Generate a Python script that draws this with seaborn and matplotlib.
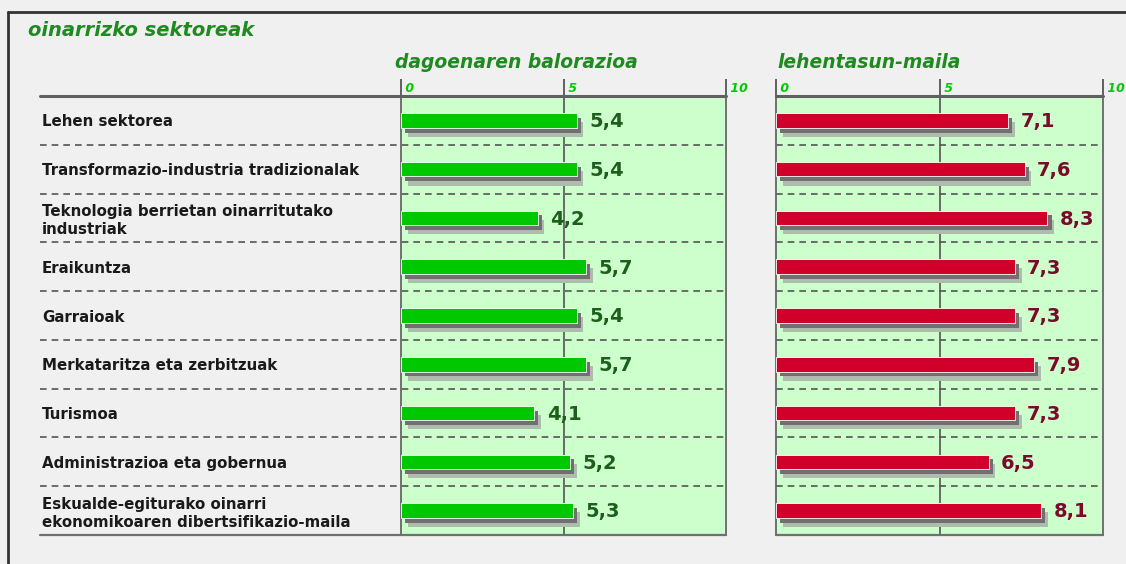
import matplotlib
matplotlib.use("Agg")
import matplotlib.pyplot as plt
import matplotlib.patheffects as pe
from matplotlib.lines import Line2D
import seaborn as sns
import pandas as pd

# ---- data ----
categories = [
    "Lehen sektorea",
    "Transformazio-industria tradizionalak",
    "Teknologia berrietan oinarritutako\nindustriak",
    "Eraikuntza",
    "Garraioak",
    "Merkataritza eta zerbitzuak",
    "Turismoa",
    "Administrazioa eta gobernua",
    "Eskualde-egiturako oinarri\nekonomikoaren dibertsifikazio-maila",
]
balorazioa = [5.4, 5.4, 4.2, 5.7, 5.4, 5.7, 4.1, 5.2, 5.3]
lehentasuna = [7.1, 7.6, 8.3, 7.3, 7.3, 7.9, 7.3, 6.5, 8.1]
xticks = [0, 5, 10]
main_title = "oinarrizko sektoreak"
panel_titles = ["dagoenaren balorazioa", "lehentasun-maila"]

sns.set_theme(style="white")
plt.rcParams["font.family"] = ["DejaVu Sans"]

W, H = 1126, 564
fig = plt.figure(figsize=(W / 100, H / 100), dpi=100, facecolor="#f0f0f0")

def fx(px):
    return px / W

def fy(py):
    return 1 - py / H

top_px, bot_px = 96, 535
axL = fig.add_axes([fx(401), fy(bot_px), fx(726 - 401), fy(top_px) - fy(bot_px)])
axR = fig.add_axes([fx(776), fy(bot_px), fx(1103 - 776), fy(top_px) - fy(bot_px)])

df = pd.DataFrame({"cat": categories, "bal": balorazioa, "leh": lehentasuna})

specs = [
    (axL, "bal", "#00c800", "#1d5e1d", True),
    (axR, "leh", "#d0002a", "#7a0a2a", False),
]

for ax, col, color, vcolor, show_labels in specs:
    ax.set_facecolor("#ccffcc")
    sns.barplot(data=df, x=col, y="cat", orient="h", color=color, width=0.3,
                edgecolor="white", linewidth=0.6, saturation=1, ax=ax, zorder=3)
    for p in ax.patches:
        p.set_path_effects([
            pe.SimplePatchShadow(offset=(5, -6.5), shadow_rgbFace="#aebcae", alpha=1),
            pe.SimplePatchShadow(offset=(3, -3.5), shadow_rgbFace="#707070", alpha=1),
            pe.Normal(),
        ])
    vals = df[col].tolist()
    for i, v in enumerate(vals):
        ax.annotate(f"{v:.1f}".replace(".", ","), xy=(v, i), xytext=(9, -1),
                    textcoords="offset points", ha="left", va="center",
                    fontsize=14, fontweight="heavy", color=vcolor, zorder=5)
    ax.set_xlim(0, 10)
    ax.set_ylim(len(categories) - 0.5, -0.5)
    ax.set_xlabel("")
    ax.set_ylabel("")
    ax.xaxis.tick_top()
    ax.set_xticks(xticks)
    ax.set_xticklabels([])
    ax.tick_params(axis="x", length=12, width=1.3, color="#555555", direction="out")
    for t in xticks:
        ax.text(t, 1.0 + 8 / 439, f" {t}", transform=ax.get_xaxis_transform(),
                ha="left", va="center", fontsize=9, fontweight="bold",
                fontstyle="italic", color="#00cc00", clip_on=False)
    ax.axvline(5, color="#555555", lw=1.2, zorder=1)
    for s in ["left", "right"]:
        ax.spines[s].set_color("#666666")
        ax.spines[s].set_linewidth(1.3)
    ax.spines["top"].set_visible(False)
    ax.spines["bottom"].set_visible(False)

    xmin = (40 - 401) / (726 - 401) if show_labels else 0
    for i in range(len(categories) - 1):
        ax.axhline(i + 0.5, xmin=xmin, xmax=1, color="#555555", lw=1.2,
                   ls=(0, (4, 3)), clip_on=False, zorder=2)
    ax.axhline(-0.5, xmin=xmin, xmax=1, color="#606060", lw=2.2, clip_on=False, zorder=4)
    ax.axhline(len(categories) - 0.5, xmin=xmin, xmax=1, color="#707070", lw=1.6,
               clip_on=False, zorder=4)

    if show_labels:
        ax.set_yticks(range(len(categories)))
        ax.set_yticklabels(categories, ha="left", fontsize=10.8, fontweight="bold",
                           color="#1a1a1a", linespacing=1.2)
        ax.tick_params(axis="y", length=0, pad=(401 - 42) * 0.72)
    else:
        ax.set_yticks([])

fig.text(fx(28), fy(31), main_title, fontsize=14, fontstyle="italic",
         fontweight="semibold", color="#1f8a1f", ha="left", va="center")
fig.text(fx(395), fy(62), panel_titles[0], fontsize=13.5, fontstyle="italic",
         fontweight="semibold", color="#1f8a1f", ha="left", va="center")
fig.text(fx(777), fy(62), panel_titles[1], fontsize=13.5, fontstyle="italic",
         fontweight="semibold", color="#1f8a1f", ha="left", va="center")

# outer frame
fig.add_artist(Line2D([fx(8), 1.0], [fy(12), fy(12)], color="#333333", lw=2))
fig.add_artist(Line2D([fx(8), fx(8)], [fy(12), 0.0], color="#333333", lw=2))

fig.savefig("out.png", dpi=100, facecolor=fig.get_facecolor())
